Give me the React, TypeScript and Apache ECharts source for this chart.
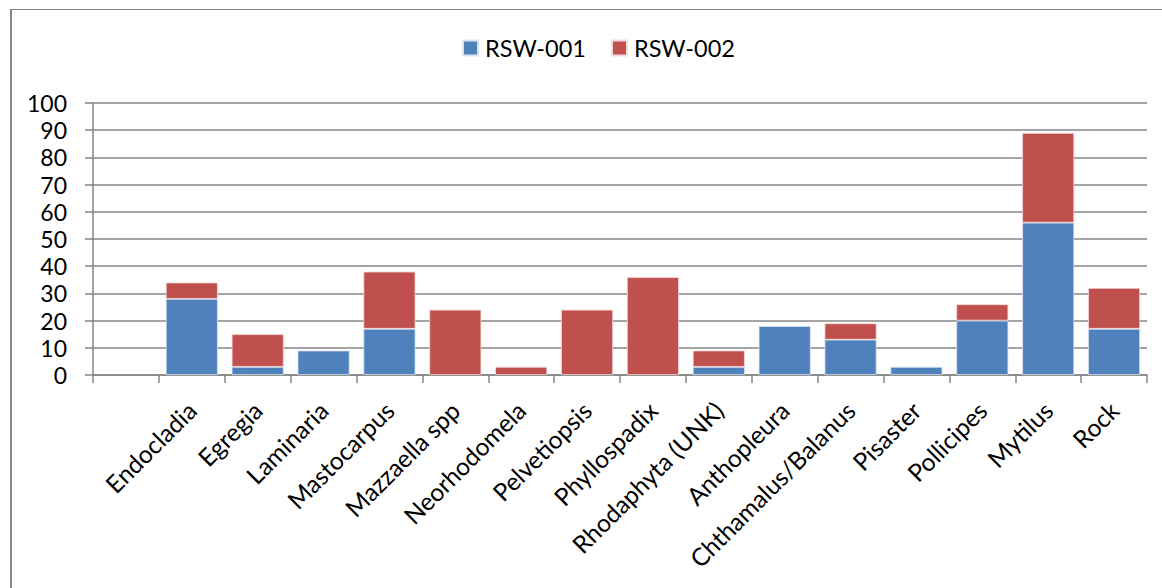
import React, { useEffect, useRef } from "react";
import * as echarts from "echarts";

const categories = [
  "",
  "Endocladia",
  "Egregia",
  "Laminaria",
  "Mastocarpus",
  "Mazzaella spp",
  "Neorhodomela",
  "Pelvetiopsis",
  "Phyllospadix",
  "Rhodaphyta (UNK)",
  "Anthopleura",
  "Chthamalus/Balanus",
  "Pisaster",
  "Pollicipes",
  "Mytilus",
  "Rock",
];
const rsw001 = [0, 28, 3, 9, 17, 0, 0, 0, 0, 3, 18, 13, 3, 20, 56, 17];
const rsw002 = [0, 6, 12, 0, 21, 24, 3, 24, 36, 6, 0, 6, 0, 6, 33, 15];
const yTicks = { min: 0, max: 100, interval: 10 };

const FONT = "Lato, 'Open Sans', sans-serif";
const nz = (arr: number[]) => arr.map((v) => (v === 0 ? null : v));

export default function App() {
  const ref = useRef<HTMLDivElement>(null);
  useEffect(() => {
    if (!ref.current) return;
    const chart = echarts.init(ref.current, undefined, { renderer: "svg" });
    chart.setOption({
      animation: false,
      backgroundColor: "#ffffff",
      textStyle: { fontFamily: FONT },
      legend: {
        top: 31,
        left: 457,
        itemWidth: 15,
        itemHeight: 15,
        itemGap: 25,
        icon: "rect",
        textStyle: { fontSize: 23.5, color: "#000", fontFamily: FONT, padding: [0, 0, 0, 2] },
        data: ["RSW-001", "RSW-002"],
      },
      grid: { left: 93, right: 15, top: 103, bottom: 213, containLabel: false },
      xAxis: {
        type: "category",
        data: categories,
        axisLine: { lineStyle: { color: "#868686", width: 1.5 } },
        axisTick: { show: true, length: 8, alignWithLabel: false, lineStyle: { color: "#868686", width: 1.5 } },
        axisLabel: {
          rotate: 45,
          interval: 0,
          fontSize: 24.5,
          color: "#000",
          margin: 31,
          fontFamily: FONT,
        },
      },
      yAxis: {
        type: "value",
        min: yTicks.min,
        max: yTicks.max,
        interval: yTicks.interval,
        axisLine: { show: true, lineStyle: { color: "#868686", width: 1.5 } },
        axisTick: { show: true, length: 8, lineStyle: { color: "#868686", width: 1.5 } },
        splitLine: { show: true, lineStyle: { color: "#868686", width: 1.5 } },
        axisLabel: { fontSize: 23, color: "#000", margin: 26, fontFamily: FONT },
      },
      series: [
        {
          name: "RSW-001",
          type: "bar",
          stack: "total",
          data: nz(rsw001),
          barCategoryGap: "21%",
          itemStyle: { color: "#4F81BD", borderColor: "#dbe5f1", borderWidth: 0.8 },
        },
        {
          name: "RSW-002",
          type: "bar",
          stack: "total",
          data: nz(rsw002),
          barCategoryGap: "21%",
          itemStyle: { color: "#C0504D", borderColor: "#f2dcdb", borderWidth: 0.8 },
        },
      ],
      graphic: [
        { type: "line", shape: { x1: 10, y1: 9.5, x2: 1162, y2: 9.5 }, style: { stroke: "#868686", lineWidth: 1 }, silent: true },
        { type: "line", shape: { x1: 11, y1: 9, x2: 11, y2: 588 }, style: { stroke: "#868686", lineWidth: 2 }, silent: true },
      ],
    });
    return () => chart.dispose();
  }, []);
  return (
    <div
      ref={ref}
      style={{ position: "absolute", left: 0, top: 0, width: 1162, height: 588 }}
    />
  );
}
